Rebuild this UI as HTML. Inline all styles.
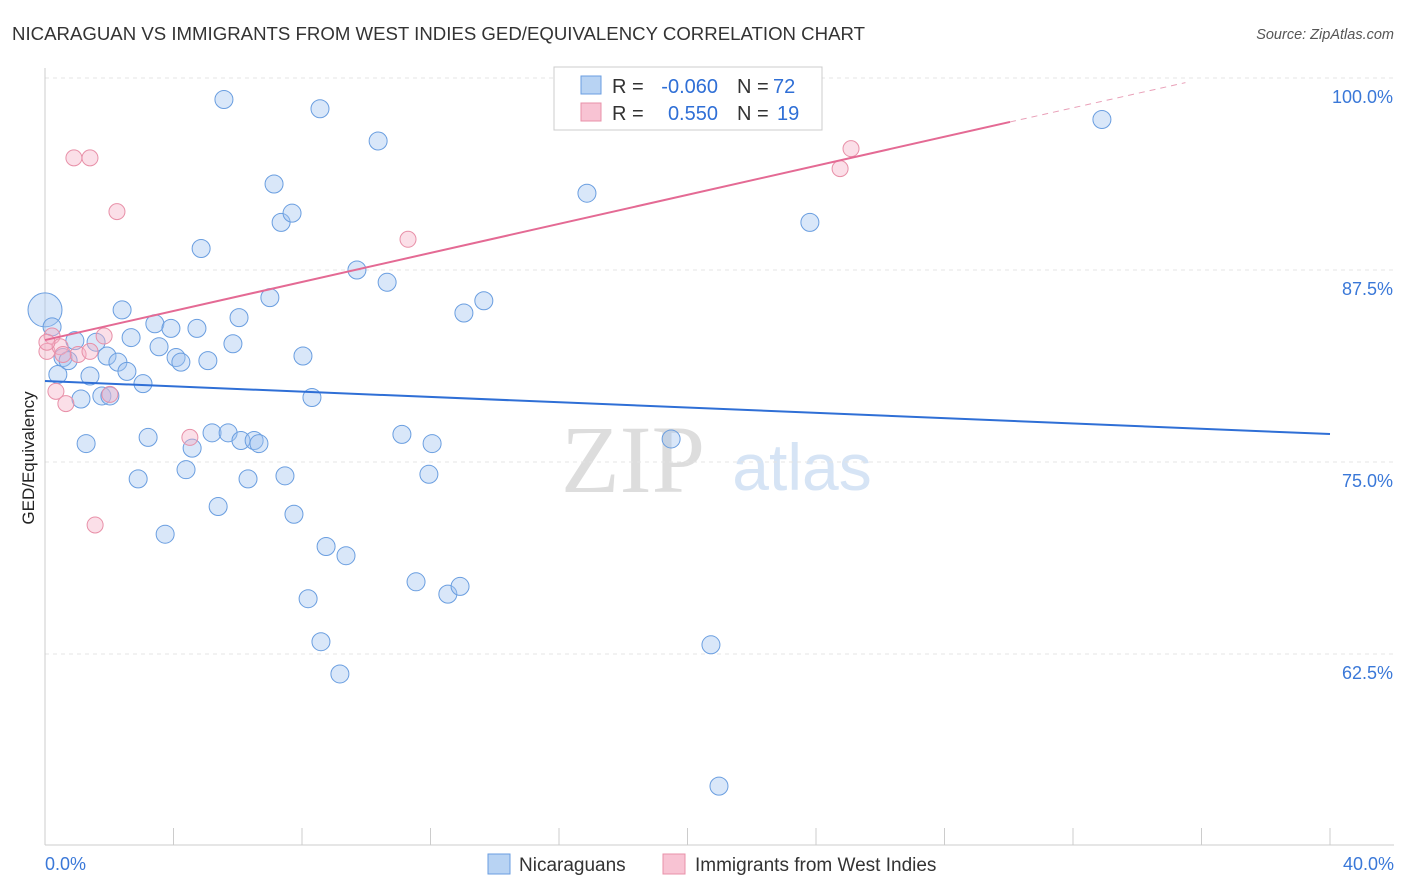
<!DOCTYPE html>
<html><head><meta charset="utf-8"><style>
body{margin:0;background:#fff;font-family:"Liberation Sans",sans-serif;}
svg{display:block}
</style></head><body>
<svg id="c" width="1406" height="892">
<text x="12" y="40" font-size="18" fill="#333" textLength="853" lengthAdjust="spacingAndGlyphs">NICARAGUAN VS IMMIGRANTS FROM WEST INDIES GED/EQUIVALENCY CORRELATION CHART</text>
<text x="1394" y="39" font-size="14.5" fill="#555" font-style="italic" text-anchor="end">Source: ZipAtlas.com</text>
<text transform="translate(34,458) rotate(-90)" font-size="17" fill="#222" text-anchor="middle">GED/Equivalency</text>
<g><text x="633" y="492" font-size="96" fill="#ddd" font-family="Liberation Serif,serif" text-anchor="middle">ZIP</text><text x="802" y="490" font-size="66" fill="#d6e4f5" text-anchor="middle">atlas</text></g>
<g id="grid"></g><g id="marks"></g>
<g>
<rect x="554" y="67" width="268" height="63" fill="#fff" stroke="#ccc"/>
<rect x="581" y="76" width="20" height="18" fill="#b8d3f3" stroke="#6a9ee0"/>
<rect x="581" y="103" width="20" height="18" fill="#f8c3d3" stroke="#e890a8"/>
<text x="612" y="93" font-size="20" fill="#333">R =</text>
<text x="718" y="93" font-size="20" fill="#2f6fd6" text-anchor="end">-0.060</text>
<text x="737" y="93" font-size="20" fill="#333">N =</text>
<text x="773" y="93" font-size="20" fill="#2f6fd6">72</text>
<text x="612" y="120" font-size="20" fill="#333">R =</text>
<text x="718" y="120" font-size="20" fill="#2f6fd6" text-anchor="end">0.550</text>
<text x="737" y="120" font-size="20" fill="#333">N =</text>
<text x="777" y="120" font-size="20" fill="#2f6fd6">19</text>
</g>
<g>
<rect x="488" y="854" width="22" height="20" fill="#b8d3f3" stroke="#6a9ee0"/>
<text x="519" y="871" font-size="19" fill="#333">Nicaraguans</text>
<rect x="663" y="854" width="22" height="20" fill="#f8c3d3" stroke="#e890a8"/>
<text x="695" y="871" font-size="19" fill="#333">Immigrants from West Indies</text>
</g>
</svg>
<script>
const blueX=[0,0.22,0.4,0.56,0.72,0.93,1.12,1.28,1.4,1.59,1.77,1.93,2.02,2.27,2.4,2.55,2.68,3.05,3.21,2.9,3.42,3.55,3.74,3.92,4.08,4.23,4.39,4.58,4.73,4.86,5.07,5.2,5.39,5.57,5.7,5.85,6.04,6.1,6.32,6.51,6.66,7.0,7.13,7.35,7.47,7.69,7.75,8.03,8.19,8.31,8.56,8.59,8.75,9.18,9.37,9.71,10.37,10.65,11.11,11.55,11.95,12.05,12.54,12.92,13.04,13.66,16.87,19.49,20.73,20.98,23.81,32.9];
const blueY=[84.9,83.8,80.7,81.8,81.6,82.9,79.1,76.2,80.6,82.8,79.3,81.9,79.3,81.5,84.9,80.9,83.1,80.1,76.6,73.9,84.0,82.5,70.3,83.7,81.8,81.5,74.5,75.9,83.7,88.9,81.6,76.9,72.1,98.6,76.9,82.7,84.4,76.4,73.9,76.4,76.2,85.7,93.1,90.6,74.1,91.2,71.6,81.9,66.1,79.2,98.0,63.3,69.5,61.2,68.9,87.5,95.9,86.7,76.8,67.2,74.2,76.2,66.4,66.9,84.7,85.5,92.5,76.5,63.1,53.9,90.6,97.3];
const pinkX=[0.06,0.22,0.34,0.47,0.65,0.9,1.03,1.4,1.4,1.56,1.84,2.02,2.24,4.51,11.3,24.75,25.09,0.06,0.56];
const pinkY=[82.2,83.2,79.6,82.5,78.8,94.8,82.0,94.8,82.2,70.9,83.2,79.4,91.3,76.6,89.5,94.1,95.4,82.8,82.0];
const blueTrend=[80.27,76.82];
const pinkTrend=[82.94,97.14,99.7];
const trendX=[0,40,30.04,35.5];
const yTicks=[100,87.5,75,62.5];
const xTicks=[0,4,8,12,16,20,24,28,32,36,40];
const NS="http://www.w3.org/2000/svg";
const sx=v=>45+v*32.125, sy=v=>78+(100-v)*15.36;
function mk(t,a,p){const e=document.createElementNS(NS,t);for(const k in a)e.setAttribute(k,a[k]);p.appendChild(e);return e;}
const g=document.getElementById('grid'),m=document.getElementById('marks');
yTicks.forEach(v=>{
 const l=mk('line',{x1:45,x2:1394,y1:sy(v),y2:sy(v),stroke:'#e4e4e4','stroke-dasharray':'4,4'},g);
 
 
 const t=mk('text',{x:1393,y:sy(v)+25,'font-size':18,fill:'#3a78d8','text-anchor':'end'},g);t.textContent=v.toFixed(1)+'%';
 
 
});
const ax=mk('line',{x1:45,x2:1394,y1:845,y2:845,stroke:'#ccc'},g);


const ay=mk('line',{x1:45,x2:45,y1:68,y2:845,stroke:'#ccc'},g);


xTicks.forEach(v=>{const l=mk('line',{x1:sx(v),x2:sx(v),y1:828,y2:845,stroke:'#ccc'},g);
 
 });
[[0,'0.0%','start',45],[40,'40.0%','end',1394]].forEach(([v,s,a,x])=>{const t=mk('text',{x:x,y:870,'font-size':18,fill:'#3a78d8','text-anchor':a},g);t.textContent=s;
 
 });
blueX.forEach((x,i)=>{const c=mk('circle',{cx:sx(x),cy:sy(blueY[i]),r:i==0?17:9,fill:'rgba(160,196,240,0.4)',stroke:'#6a9ee0','stroke-width':1},m);
 
 });
pinkX.forEach((x,i)=>{const c=mk('circle',{cx:sx(x),cy:sy(pinkY[i]),r:8,fill:'rgba(245,175,198,0.4)',stroke:'#e890a8','stroke-width':1},m);
 
 });
const bt=mk('line',{x1:sx(trendX[0]),y1:sy(blueTrend[0]),x2:sx(trendX[1]),y2:sy(blueTrend[1]),stroke:'#2f6fd6','stroke-width':2},m);


const pt=mk('line',{x1:sx(trendX[0]),y1:sy(pinkTrend[0]),x2:sx(trendX[2]),y2:sy(pinkTrend[1]),stroke:'#e46a94','stroke-width':2},m);


const pd=mk('line',{x1:sx(trendX[2]),y1:sy(pinkTrend[1]),x2:sx(trendX[3]),y2:sy(pinkTrend[2]),stroke:'#e9a0b8','stroke-width':1,'stroke-dasharray':'6,5'},m);


</script>
</body></html>
